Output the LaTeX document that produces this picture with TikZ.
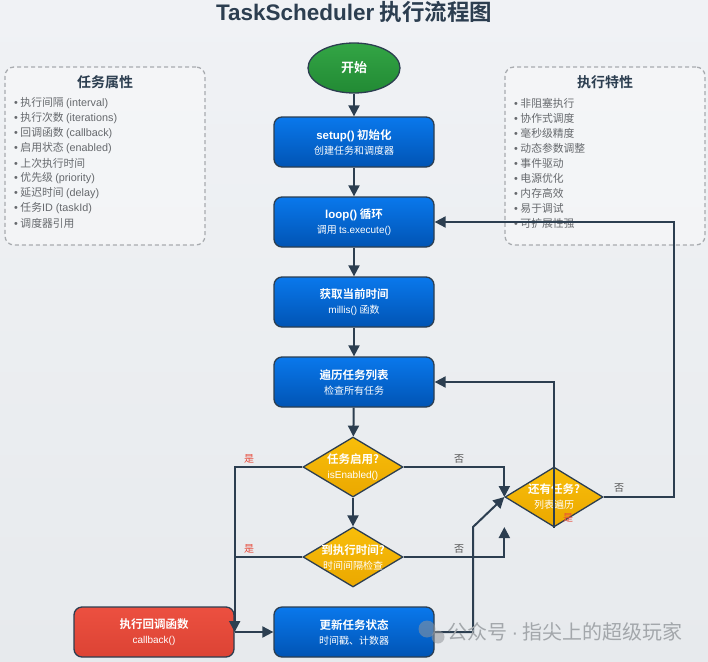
\documentclass[tikz,border=0pt]{standalone}
\usepackage{fontspec}
\setmainfont{Noto Sans CJK SC}[BoldFont={Noto Sans CJK SC Bold}]
\newfontfamily\lat{Liberation Sans}
\usetikzlibrary{shapes.geometric,arrows.meta,calc}
\definecolor{edge}{HTML}{2C3E50}
\definecolor{bgA}{HTML}{F0F2F5}
\definecolor{bgB}{HTML}{E7EAED}
\definecolor{blueA}{HTML}{0A78EC}
\definecolor{blueB}{HTML}{0054B4}
\definecolor{greenA}{HTML}{33A545}
\definecolor{greenB}{HTML}{228A34}
\definecolor{yelA}{HTML}{F8BE0A}
\definecolor{yelB}{HTML}{EBA800}
\definecolor{redA}{HTML}{EC5040}
\definecolor{redB}{HTML}{DC4334}
\definecolor{yesred}{HTML}{E74C3C}
\definecolor{nogray}{HTML}{555555}
\definecolor{panelline}{HTML}{A8ABAF}
\definecolor{itemgray}{HTML}{66696D}
\definecolor{wmgray}{HTML}{A3A7AB}
\newcommand\subtxt{\fontsize{10}{12}\selectfont\mdseries}
\newcommand\bul{{\lat •}\hspace{2.5pt}}
\tikzset{
  proc/.style={draw=edge, line width=1.3pt, rounded corners=8pt, minimum width=160pt,
    minimum height=50pt, top color=blueA, bottom color=blueB, inner sep=0pt},
  cbbox/.style={proc, top color=redA, bottom color=redB},
  dec/.style={diamond, draw=edge, line width=1.3pt, minimum width=100pt, minimum height=60pt,
    inner sep=0pt, top color=yelA, bottom color=yelB},
  boxtext/.style={text=white, align=center, font=\fontsize{11.5}{16}\selectfont\bfseries},
  arr/.style={draw=edge, line width=2pt, -{Triangle[length=11pt,width=11pt]}},
  ln/.style={draw=edge, line width=2pt},
  yes/.style={text=yesred, font=\fontsize{10}{12}\selectfont},
  no/.style={text=nogray, font=\fontsize{10}{12}\selectfont},
  panel/.style={draw=panelline, line width=1.3pt, dash pattern=on 4pt off 3pt, rounded corners=9pt,
    fill=white, fill opacity=0.35, minimum width=200pt, minimum height=178pt},
  ptitle/.style={text=edge, font=\fontsize{14}{16}\selectfont\bfseries},
  item/.style={anchor=west, text=itemgray, font=\fontsize{10.8}{13}\selectfont, inner sep=0pt}
}
\begin{document}
\begin{tikzpicture}[x=1pt,y=-1pt]
\shade[top color=bgA, bottom color=bgB] (0,0) rectangle (708,661);
\useasboundingbox (0,0) rectangle (708,661);

% title
\node[text=edge, font=\fontsize{22.5}{26}\selectfont\bfseries] (title) at (354,12) {{\lat TaskScheduler} 执行流程图};

% side panels
\node[panel] (attr) at (105,156) {};
\node[ptitle] (attrT) at (105,82) {任务属性};
\foreach \t [count=\i from 0] in {执行间隔 {\lat (interval)},执行次数 {\lat (iterations)},回调函数 {\lat (callback)},启用状态 {\lat (enabled)},上次执行时间,优先级 {\lat (priority)},延迟时间 {\lat (delay)},任务{\lat ID (taskId)},调度器引用}
  \node[item] (a\i) at (14,{103+15*\i}) {\bul\t};

\node[panel] (feat) at (605,156) {};
\node[ptitle] (featT) at (605,82) {执行特性};
\foreach \t [count=\i from 0] in {非阻塞执行,协作式调度,毫秒级精度,动态参数调整,事件驱动,电源优化,内存高效,易于调试,可扩展性强}
  \node[item] (f\i) at (514,{103+15*\i}) {\bul\t};

% main flow
\node[ellipse, draw=edge, line width=1.3pt, minimum width=92pt, minimum height=50pt,
      top color=greenA, bottom color=greenB, boxtext, font=\fontsize{13}{16}\selectfont\bfseries] (start) at (354,68) {开始};
\node[proc] (setup) at (354,142) {};
\node[boxtext] at (setup) {{\lat setup()} 初始化\\[-1pt]{\subtxt 创建任务和调度器}};
\node[proc] (loop) at (354,222) {};
\node[boxtext] at (loop) {{\lat loop()} 循环\\[-1pt]{\subtxt 调用 {\lat ts.execute()}}};
\node[proc] (now) at (354,302) {};
\node[boxtext] at (now) {获取当前时间\\[-1pt]{\subtxt {\lat millis()} 函数}};
\node[proc] (iter) at (354,382) {};
\node[boxtext] at (iter) {遍历任务列表\\[-1pt]{\subtxt 检查所有任务}};

\node[dec] (en) at (353,467) {};
\node[boxtext] at (en) {任务启用?\\[-1pt]{\subtxt\lat isEnabled()}};
\node[dec] (due) at (353,557) {};
\node[boxtext] at (due) {到执行时间?\\[-1pt]{\subtxt 时间间隔检查}};
\node[dec, minimum width=98pt] (more) at (554,497) {};
\node[boxtext] at (more) {还有任务?\\[-1pt]{\subtxt 列表遍历}};

\node[cbbox] (cb) at (154,632) {};
\node[boxtext] at (cb) {执行回调函数\\[-1pt]{\subtxt\lat callback()}};
\node[proc] (upd) at (354,632) {};
\node[boxtext] at (upd) {更新任务状态\\[-1pt]{\subtxt 时间戳、计数器}};

% connectors
\draw[arr] (start) -- (setup);
\draw[arr] (setup) -- (loop);
\draw[arr] (loop) -- (now);
\draw[arr] (now) -- (iter);
\draw[arr] (iter) -- (en);
\draw[arr] (en) -- (due);
\draw[arr] (en.west) -| (cb.east);
\draw[ln] (due.west) -- (due.west -| cb.east);
\draw[arr] (cb.east) -- (upd.west);
\draw[arr] (en.east) -| (more.west);
\coordinate (m1) at ($(more.west)+(0,30)$);
\draw[arr] (due.east) -| (m1);
\coordinate (k) at (473,527);
\draw[arr] (upd.east) -| (k) -- (more.west);
\draw[arr] (more.south) |- (iter.east);
\coordinate (r) at (674,497);
\draw[arr] (more.east) -- (r) |- (loop.east);

% labels
\node[yes] (y1) at (249,459) {是};
\node[yes] (y2) at (249,549) {是};
\node[yes] (y3) at (568,518) {是};
\node[no] (n1) at (459,459) {否};
\node[no] (n2) at (459,549) {否};
\node[no] (n3) at (619,488) {否};

% watermark
\fill[wmgray!90!black, opacity=0.55] (427,629) circle (8.5);
\fill[wmgray!90!black, opacity=0.55] (438,637) circle (6.5);
\node[anchor=west, text=wmgray, font=\fontsize{20}{23}\selectfont, inner sep=0pt] (wm) at (447,632) {公众号 {\lat ·} 指尖上的超级玩家};
\end{tikzpicture}
\end{document}
